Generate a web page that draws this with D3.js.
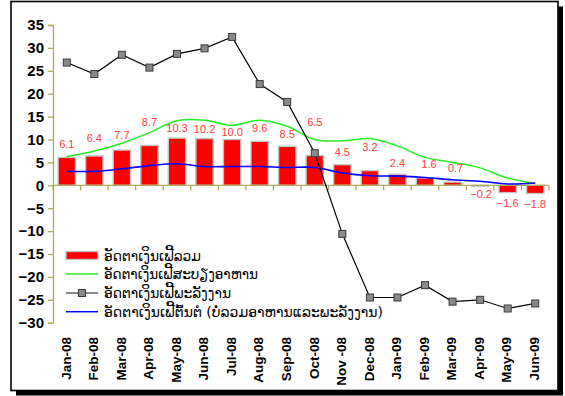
<!DOCTYPE html>
<html>
<head>
<meta charset="utf-8">
<script src="https://cdn.jsdelivr.net/npm/d3@7"></script>
<style>
  html, body { margin: 0; padding: 0; background: #fff; }
  svg { display: block; }
</style>
</head>
<body>
<svg id="chart" width="565" height="396"></svg>
<script>
// Monthly inflation, Jan-08 .. Jun-09 (percent)
const months = ["Jan-08","Feb-08","Mar-08","Apr-08","May-08","Jun-08","Jul-08","Aug-08","Sep-08",
                "Oct-08","Nov -08","Dec-08","Jan-09","Feb-09","Mar-09","Apr-09","May-09","Jun-09"];
const headline = [6.1, 6.4, 7.7, 8.7, 10.3, 10.2, 10.0, 9.6, 8.5, 6.5, 4.5, 3.2, 2.4, 1.6, 0.7, -0.2, -1.6, -1.8];
const food     = [6.3, 7.5, 9.2, 11.5, 14.1, 14.2, 13.1, 14.2, 12.9, 10.0, 9.7, 10.2, 8.6, 6.1, 5.0, 3.8, 1.6, 0.4];
const energy   = [26.8, 24.3, 28.5, 25.7, 28.7, 29.9, 32.4, 22.1, 18.2, 7.0, -10.6, -24.5, -24.5, -21.8, -25.4, -25.0, -26.9, -25.8];
const core     = [3.05, 3.05, 3.6, 4.3, 4.7, 4.1, 4.1, 4.1, 3.9, 3.9, 2.7, 2.1, 2.0, 1.7, 1.2, 0.9, 0.3, 0.5];
const yTicks   = [35, 30, 25, 20, 15, 10, 5, 0, -5, -10, -15, -20, -25, -30];
const seriesNames = [
  "ອັດຕາເງິນເຟີ້ລວມ",
  "ອັດຕາເງິນເຟີ້ສະບຽງອາຫານ",
  "ອັດຕາເງິນເຟີ້ພະລັງງານ",
  "ອັດຕາເງິນເຟີ້ຕົ້ນຕໍ (ບໍ່ລວມອາຫານແລະພະລັງງານ)"
];

// Hand-placed nudges for the value labels (pixels, from the bar end)
const labelDy = [-13.3, -17.7, -15, -23.3, -10, -9.3, -7, -12.7, -12.7, -33.7, -12.3, -23.2, -11.3, -13.4, -13.7, 8, 11, 10.3];
const labelDx = [0, 0, 0, 0, 0, 0, 0, 0, 0, 0, 0, 0, 0, 4, 3, 1, 0, 0];
const legendWidths = [97, 154, 127, 279];

const svg = d3.select("#chart");
const axisColor = "#b2aa5c";

// Outer frame with drop shadow
svg.append("rect").attr("x", 16).attr("y", 6.5).attr("width", 547).attr("height", 389).attr("fill", "#000");
svg.append("rect").attr("x", 11).attr("y", 1.5).attr("width", 547).attr("height", 389)
  .attr("fill", "#fff").attr("stroke", "#000").attr("stroke-width", 1.6);

const x = d3.scaleBand().domain(months).range([53, 549]).padding(0);
const y = d3.scaleLinear().domain([-30, 35]).range([322.7, 25]);
const cx = d => x(d) + x.bandwidth() / 2;
const barW = x.bandwidth() * 0.63;

// Bars: headline inflation
svg.append("g").selectAll("rect").data(headline).join("rect")
  .attr("x", (d, i) => cx(months[i]) - barW / 2)
  .attr("y", d => y(Math.max(0, d)))
  .attr("width", barW)
  .attr("height", d => Math.abs(y(d) - y(0)))
  .attr("fill", "#ff0000")
  .attr("stroke", "#c4c4c4")
  .attr("stroke-width", 1.4);

// Y axis
const yAxis = svg.append("g").attr("transform", "translate(53,0)")
  .call(d3.axisLeft(y).tickValues(yTicks).tickSize(5).tickPadding(4).tickFormat(d3.format("d")));
yAxis.select(".domain").attr("stroke", axisColor).attr("stroke-width", 1.3);
yAxis.selectAll(".tick line").attr("stroke", axisColor).attr("stroke-width", 1.3);
yAxis.selectAll(".tick text")
  .attr("fill", "#000")
  .style("font-family", "'Liberation Sans', Arial, sans-serif")
  .style("font-size", "15px")
  .style("font-weight", "bold");

// X axis line at zero, ticks between categories
const xg = svg.append("g");
xg.append("line").attr("x1", 53).attr("x2", 549).attr("y1", y(0)).attr("y2", y(0))
  .attr("stroke", axisColor).attr("stroke-width", 1.3);
xg.selectAll("line.tk").data(months.concat(["__end"])).join("line").attr("class", "tk")
  .attr("x1", (d, i) => 53 + i * x.step()).attr("x2", (d, i) => 53 + i * x.step())
  .attr("y1", y(0)).attr("y2", y(0) + 5)
  .attr("stroke", axisColor).attr("stroke-width", 1.3);

// Category labels along the bottom, rotated
svg.append("g").selectAll("text").data(months).join("text")
  .attr("transform", d => `translate(${cx(d) - 1},337) rotate(-90)`)
  .attr("text-anchor", "end")
  .attr("dy", "0.35em")
  .style("font-family", "'Liberation Sans', Arial, sans-serif")
  .style("font-size", "13.5px")
  .style("font-weight", "bold")
  .text(d => d);

// Food inflation (green, smoothed)
const smooth = d3.line().x((d, i) => cx(months[i])).y(d => y(d)).curve(d3.curveCatmullRom.alpha(0.5));
svg.append("path").datum(food).attr("d", smooth)
  .attr("fill", "none").attr("stroke", "#22ee22").attr("stroke-width", 1.5);

// Core inflation (blue, smoothed)
svg.append("path").datum(core).attr("d", smooth)
  .attr("fill", "none").attr("stroke", "#0000ff").attr("stroke-width", 1.6);

// Energy inflation (black line with grey square markers)
const straight = d3.line().x((d, i) => cx(months[i])).y(d => y(d));
svg.append("path").datum(energy).attr("d", straight)
  .attr("fill", "none").attr("stroke", "#000").attr("stroke-width", 1.2);
svg.append("g").selectAll("rect").data(energy).join("rect")
  .attr("x", (d, i) => cx(months[i]) - 3.5)
  .attr("y", d => y(d) - 3.5)
  .attr("width", 7).attr("height", 7)
  .attr("fill", "#8a8a8a").attr("stroke", "#3a3a3a").attr("stroke-width", 1);

// Value labels for the bars
svg.append("g").selectAll("text").data(headline).join("text")
  .attr("x", (d, i) => cx(months[i]) + labelDx[i])
  .attr("y", (d, i) => y(d) + labelDy[i])
  .attr("dy", "0.35em")
  .attr("text-anchor", "middle")
  .attr("fill", "#ff3b3b")
  .style("font-family", "'Liberation Sans', Arial, sans-serif")
  .style("font-size", "11px")
  .text(d => d3.format(".1f")(d));

// Legend
const legend = svg.append("g");
const rowY = [255.5, 274, 293, 311.7];
legend.append("rect").attr("x", 66).attr("y", rowY[0] - 4).attr("width", 32).attr("height", 8)
  .attr("fill", "#ff0000").attr("stroke", "#c4c4c4").attr("stroke-width", 1.4);
legend.append("line").attr("x1", 66).attr("x2", 98).attr("y1", rowY[1]).attr("y2", rowY[1])
  .attr("stroke", "#22ee22").attr("stroke-width", 1.5);
legend.append("line").attr("x1", 66).attr("x2", 98).attr("y1", rowY[2]).attr("y2", rowY[2])
  .attr("stroke", "#555").attr("stroke-width", 1.4);
legend.append("rect").attr("x", 82 - 3.5).attr("y", rowY[2] - 3.5).attr("width", 7).attr("height", 7)
  .attr("fill", "#8a8a8a").attr("stroke", "#3a3a3a").attr("stroke-width", 1);
legend.append("line").attr("x1", 66).attr("x2", 98).attr("y1", rowY[3]).attr("y2", rowY[3])
  .attr("stroke", "#0000ff").attr("stroke-width", 1.5);
legend.selectAll("text").data(seriesNames).join("text")
  .attr("x", 104)
  .attr("y", (d, i) => rowY[i] + 5)
  .attr("textLength", (d, i) => legendWidths[i])
  .attr("lengthAdjust", "spacingAndGlyphs")
  .style("font-family", "'DejaVu Sans', sans-serif")
  .style("font-size", "14px")
  .attr("fill", "#000")
  .text(d => d);
</script>
</body>
</html>
